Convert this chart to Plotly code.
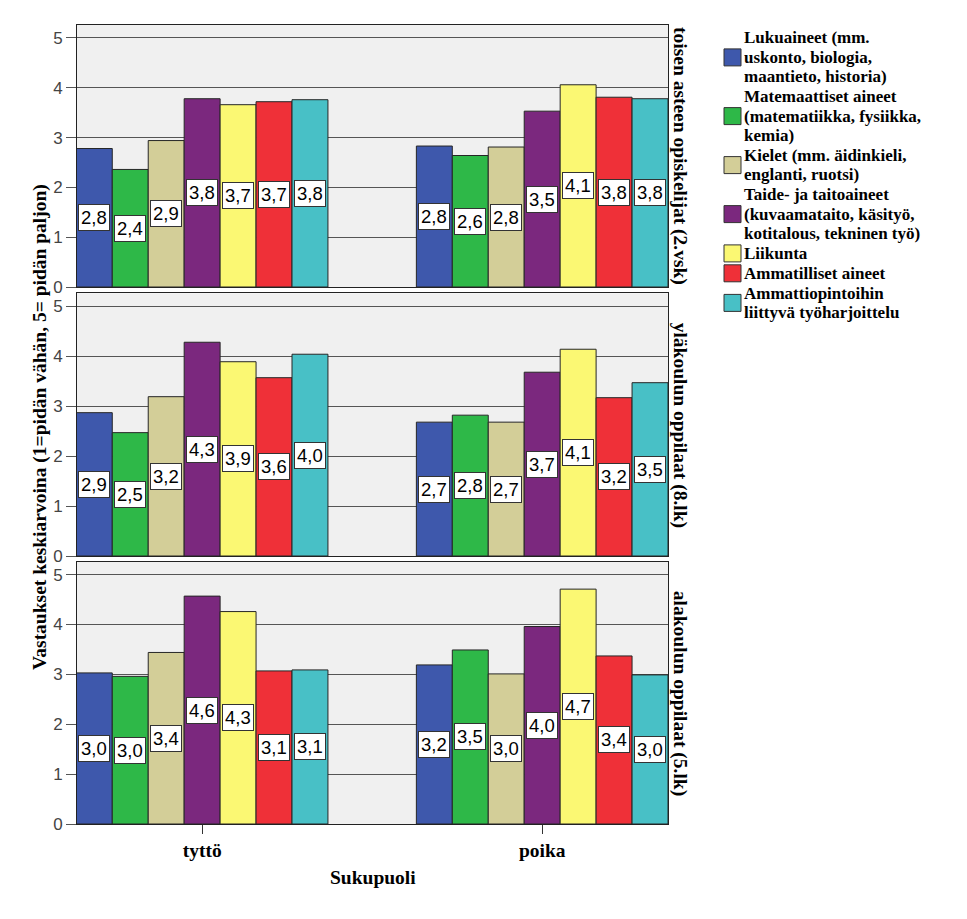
import plotly.graph_objects as go

groups = ["tyttö", "poika"]
panels = ["toisen asteen opiskelijat (2.vsk)",
          "yläkoulun oppilaat (8.lk)",
          "alakoulun oppilaat (5.lk)"]
legend_lines = [
    ["Lukuaineet (mm.", "uskonto, biologia,", "maantieto, historia)"],
    ["Matemaattiset aineet", "(matematiikka, fysiikka,", "kemia)"],
    ["Kielet (mm. äidinkieli,", "englanti, ruotsi)"],
    ["Taide- ja taitoaineet", "(kuvaamataito, käsityö,", "kotitalous, tekninen työ)"],
    ["Liikunta"],
    ["Ammatilliset aineet"],
    ["Ammattiopintoihin", "liittyvä työharjoittelu"],
]
subjects = [" ".join(l) for l in legend_lines]
colors = ["#3e58ac", "#2eb848", "#d3ce98", "#7b287e", "#fbf873", "#ef3038", "#48c0c6"]

# values per subject: [tyttö, poika]
toinen_aste = [[2.78, 2.83], [2.36, 2.64], [2.94, 2.81], [3.78, 3.53],
               [3.66, 4.06], [3.72, 3.81], [3.76, 3.78]]
ylakoulu = [[2.87, 2.68], [2.47, 2.82], [3.19, 2.68], [4.28, 3.68],
            [3.89, 4.14], [3.57, 3.17], [4.04, 3.47]]
alakoulu = [[3.03, 3.19], [2.96, 3.49], [3.44, 3.01], [4.57, 3.96],
            [4.26, 4.71], [3.07, 3.37], [3.09, 2.99]]
panel_values = [toinen_aste, ylakoulu, alakoulu]

SERIF = "Liberation Serif"
SANS = "Liberation Sans"

W, H = 967, 919
L, R, T, B = 77, 299, 25, 95
PW, PH = W - L - R, H - T - B

def px_x(x):
    return (x - L) / PW

def px_y(y):
    return (H - B - y) / PH

BARGAP = 0.26
n = len(subjects)
bw = (1 - BARGAP) / n
xs = list(range(len(groups)))

fig = go.Figure()
annotations = []
domains = [[px_y(287), 1.0], [px_y(556), px_y(293.3)], [0.0, px_y(561.7)]]

for p, vals in enumerate(panel_values):
    xa = "x" if p == 0 else f"x{p+1}"
    ya = "y" if p == 0 else f"y{p+1}"
    for j in range(n):
        fig.add_trace(go.Bar(
            x=xs, y=vals[j], name=subjects[j], marker_color=colors[j],
            marker_line_color="#262626", marker_line_width=1,
            xaxis=xa, yaxis=ya, showlegend=False, offsetgroup=str(j),
        ))
        for gi, v in enumerate(vals[j]):
            annotations.append(dict(
                x=gi + (j - (n - 1) / 2) * bw, y=v / 2, xref=xa, yref=ya,
                text=f"{v:.1f}".replace(".", ","), showarrow=False,
                font=dict(family=SANS, size=18.5, color="black"),
                bgcolor="white", bordercolor="#333333", borderwidth=1, borderpad=2,
            ))
    # panel label on right
    annotations.append(dict(
        x=px_x(680), y=(domains[p][0] + domains[p][1]) / 2, xref="paper", yref="paper",
        xanchor="center", yanchor="middle",
        text=f"<b>{panels[p]}</b>", textangle=90, showarrow=False,
        font=dict(family=SERIF, size=19.5, color="black"),
    ))

axis_common = dict(showline=True, linecolor="#222222", linewidth=1, mirror=True)
layout = dict(
    width=W, height=H, margin=dict(l=L, r=R, t=T, b=B),
    paper_bgcolor="white", plot_bgcolor="#f0f0f0",
    barmode="group", bargap=BARGAP, bargroupgap=0,
    showlegend=False,
)
for p in range(3):
    suffix = "" if p == 0 else str(p + 1)
    xa = dict(
        domain=[0, 1], range=[-0.368, 1.37], anchor="y" + suffix,
        tickvals=xs, ticktext=[f"<b>{g}</b>" for g in groups],
        showticklabels=(p == 2), ticks="outside" if p == 2 else "",
        ticklen=9, tickcolor="#333333",
        tickfont=dict(family=SERIF, size=19.5, color="black"),
        showgrid=False, zeroline=False, **axis_common,
    )
    if p > 0:
        xa["matches"] = "x"
    layout["xaxis" + suffix] = xa
    layout["yaxis" + suffix] = dict(
        domain=domains[p], range=[0, 5.26], anchor="x" + suffix,
        tickvals=[0, 1, 2, 3, 4, 5], ticks="outside", ticklen=10, tickcolor="#555555",
        tickfont=dict(family=SANS, size=17, color="#444444"),
        showgrid=True, gridcolor="#555555", gridwidth=1, zeroline=False,
        **axis_common,
    )
fig.update_layout(**layout)

# axis titles
annotations.append(dict(
    x=px_x(40), y=px_y(427), xref="paper", yref="paper",
    xanchor="center", yanchor="middle",
    text="<b>Vastaukset keskiarvoina (1=pidän vähän, 5= pidän paljon)</b>",
    textangle=-90, showarrow=False,
    font=dict(family=SERIF, size=19.5, color="black"),
))
annotations.append(dict(
    x=px_x(373), y=px_y(877), xref="paper", yref="paper",
    xanchor="center", yanchor="middle", text="<b>Sukupuoli</b>",
    showarrow=False,
    font=dict(family=SERIF, size=19.5, color="black"),
))

# legend drawn manually
shapes = []
ypos = 38.0
LINE, ITEMGAP = 19.4, 0.5
for j, lines in enumerate(legend_lines):
    first = ypos
    for k, line in enumerate(lines):
        annotations.append(dict(
            x=px_x(743), y=px_y(ypos), xref="paper", yref="paper",
            xanchor="left", yanchor="middle", text=f"<b>{line}</b>", showarrow=False,
            font=dict(family=SERIF, size=17, color="black"), borderpad=0,
        ))
        if k < len(lines) - 1:
            ypos += LINE
    center = (first + ypos) / 2
    shapes.append(dict(
        type="rect", xref="paper", yref="paper",
        x0=px_x(724), x1=px_x(741), y0=px_y(center - 8.5), y1=px_y(center + 8.5),
        fillcolor=colors[j], line=dict(color="#333333", width=1),
    ))
    ypos += LINE + ITEMGAP

fig.update_layout(annotations=annotations, shapes=shapes)
fig.write_html("out.html", config={"displayModeBar": False},
               post_script="document.body.style.margin='0px';")
